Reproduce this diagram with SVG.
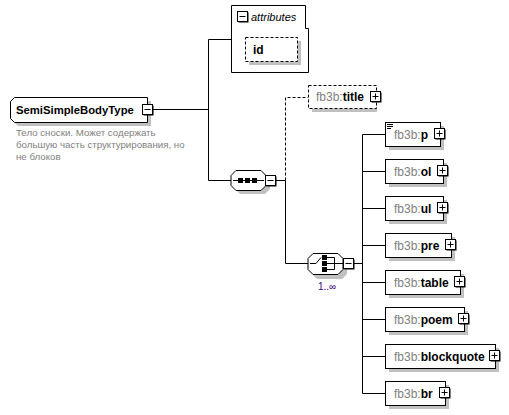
<svg xmlns="http://www.w3.org/2000/svg" width="509" height="415" viewBox="0 0 509 415">
<style>
.box{fill:#fff;stroke:#000;stroke-width:1}
.dash{fill:#fff;stroke:#000;stroke-width:1;stroke-dasharray:3,2}
.sh{fill:#c0c0c0;stroke:none}
.ln{fill:none;stroke:#000;stroke-width:1}
.dl{fill:none;stroke:#000;stroke-width:1;stroke-dasharray:3,2}
.pre{font-family:"Liberation Sans",Arial,sans-serif;font-size:12px;fill:#808080}
.nm{font-family:"Liberation Sans",Arial,sans-serif;font-size:12px;font-weight:bold;fill:#000}
.doc{font-family:"Liberation Sans",Arial,sans-serif;font-size:9.7px;fill:#808080}
</style>
<defs>
<g id="plus"><rect x="1" y="1" width="10" height="10" fill="#000"/><rect x="0" y="0" width="10" height="10" fill="#fff" stroke="#000"/><path d="M2,5H8M5,2V8" stroke="#000" fill="none"/></g>
<g id="minus"><rect x="1" y="1" width="10" height="10" fill="#000"/><rect x="0" y="0" width="10" height="10" fill="#fff" stroke="#000"/><path d="M2,5H8" stroke="#000" fill="none"/></g>
</defs>
<g id="connectors">
<path class="ln" d="M152,109.5H208.5M208.5,39.5V180.5M208.5,39.5H231M208.5,180.5H231M276,180.5H285.5M285.5,180.5V263.5H308M353,263.5H362.5M362.5,134.5V393.5"/>
<path class="dl" d="M285.5,180.5V97.5H308"/>
<path class="ln" d="M362.5,134.5H385M362.5,171.5H385M362.5,208.5H385M362.5,245.5H385M362.5,282.5H385M362.5,319.5H385M362.5,356.5H385M362.5,393.5H385"/>
</g>
<g id="SemiSimpleBodyType">
<polygon class="sh" points="18,101 151,101 151,126 18,126 14,122 14,105"/>
<polygon class="box" points="14.5,97.5 147.5,97.5 147.5,122.5 14.5,122.5 10.5,118.5 10.5,101.5"/>
<text x="16" y="114" font-family="'Liberation Sans',Arial,sans-serif" font-size="11.3px" font-weight="bold">SemiSimpleBodyType</text>
<use href="#minus" x="142.5" y="104.5"/>
<text class="doc" x="16" y="136">Тело сноски. Может содержать</text>
<text class="doc" x="16" y="148">большую часть структурирования, но</text>
<text class="doc" x="16" y="160">не блоков</text>
</g>
<g id="attributes">
<path class="box" d="M231.5,5.5H305.5V28.5H308.5V72.5H231.5Z"/>
<use href="#minus" x="237.5" y="11.5"/>
<text x="251" y="21" font-family="'Liberation Sans',Arial,sans-serif" font-size="11px" font-style="italic" fill="#000">attributes</text>
<rect class="sh" x="249" y="41" width="52" height="24"/>
<rect class="dash" x="245.5" y="37.5" width="52" height="24"/>
<text x="253" y="54" font-family="'Liberation Sans',Arial,sans-serif" font-size="12px" font-weight="bold">id</text>
</g>
<g id="sequence">
<polygon class="sh" points="240,174 265,174 270,179 270,189 265,194 240,194 235,189 235,179"/>
<polygon class="box" points="236,170.5 261,170.5 266,175.5 266,185.5 261,190.5 236,190.5 231,185.5 231,175.5"/>
<path class="ln" d="M233,180.5H264"/>
<rect x="238" y="178" width="5" height="5"/><rect x="245" y="178" width="5" height="5"/><rect x="252" y="178" width="5" height="5"/>
<use href="#minus" x="265.5" y="175.5"/>
</g>
<g id="title">
<rect class="sh" x="312" y="89" width="65" height="23"/>
<rect class="dash" x="308.5" y="85.5" width="68" height="23"/>
<text x="316" y="101"><tspan class="pre">fb3b:</tspan><tspan class="nm">title</tspan></text>
<use href="#plus" x="370.5" y="91.5"/>
</g>
<g id="choice">
<polygon class="sh" points="317,257 342,257 347,262 347,274 342,279 317,279 312,274 312,262"/>
<polygon class="box" points="313,253.5 338,253.5 343,258.5 343,269.5 338,274.5 313,274.5 308,269.5 308,258.5"/>
<path class="ln" d="M310,263.5H316L321,257.5M327,257.5H334.5V269.5H327M327,263.5H343"/>
<rect x="322" y="255" width="5" height="5"/><rect x="322" y="261" width="5" height="5"/><rect x="322" y="267" width="5" height="5"/>
<use href="#minus" x="343.5" y="258.5"/>
<text x="318" y="290" font-family="'Liberation Sans',Arial,sans-serif" font-size="10px" fill="#400080">1..∞</text>
</g>
<g id="p">
<rect class="sh" x="389" y="126" width="55" height="24"/>
<rect class="box" x="385.5" y="122.5" width="55" height="24"/>
<path class="ln" d="M387,124.5H393M387,126.5H393M387,128.5H391"/>
<text x="394" y="139"><tspan class="pre">fb3b:</tspan><tspan class="nm">p</tspan></text>
<use href="#plus" x="434.5" y="128.5"/>
</g>
<g id="ol">
<rect class="sh" x="389" y="163" width="58" height="24"/>
<rect class="box" x="385.5" y="159.5" width="58" height="24"/>
<text x="394" y="176"><tspan class="pre">fb3b:</tspan><tspan class="nm">ol</tspan></text>
<use href="#plus" x="437.5" y="165.5"/>
</g>
<g id="ul">
<rect class="sh" x="389" y="200" width="58" height="24"/>
<rect class="box" x="385.5" y="196.5" width="58" height="24"/>
<text x="394" y="213"><tspan class="pre">fb3b:</tspan><tspan class="nm">ul</tspan></text>
<use href="#plus" x="437.5" y="202.5"/>
</g>
<g id="pre">
<rect class="sh" x="389" y="237" width="66" height="24"/>
<rect class="box" x="385.5" y="233.5" width="66" height="24"/>
<text x="394" y="250"><tspan class="pre">fb3b:</tspan><tspan class="nm">pre</tspan></text>
<use href="#plus" x="445.5" y="239.5"/>
</g>
<g id="table">
<rect class="sh" x="389" y="274" width="75" height="24"/>
<rect class="box" x="385.5" y="270.5" width="75" height="24"/>
<text x="394" y="287"><tspan class="pre">fb3b:</tspan><tspan class="nm">table</tspan></text>
<use href="#plus" x="454.5" y="276.5"/>
</g>
<g id="poem">
<rect class="sh" x="389" y="311" width="79" height="24"/>
<rect class="box" x="385.5" y="307.5" width="79" height="24"/>
<text x="394" y="324"><tspan class="pre">fb3b:</tspan><tspan class="nm">poem</tspan></text>
<use href="#plus" x="458.5" y="313.5"/>
</g>
<g id="blockquote">
<rect class="sh" x="389" y="348" width="110" height="24"/>
<rect class="box" x="385.5" y="344.5" width="110" height="24"/>
<text x="394" y="361"><tspan class="pre">fb3b:</tspan><tspan class="nm">blockquote</tspan></text>
<use href="#plus" x="489.5" y="350.5"/>
</g>
<g id="br">
<rect class="sh" x="389" y="385" width="60" height="24"/>
<rect class="box" x="385.5" y="381.5" width="60" height="24"/>
<text x="394" y="398"><tspan class="pre">fb3b:</tspan><tspan class="nm">br</tspan></text>
<use href="#plus" x="439.5" y="387.5"/>
</g>
</svg>
